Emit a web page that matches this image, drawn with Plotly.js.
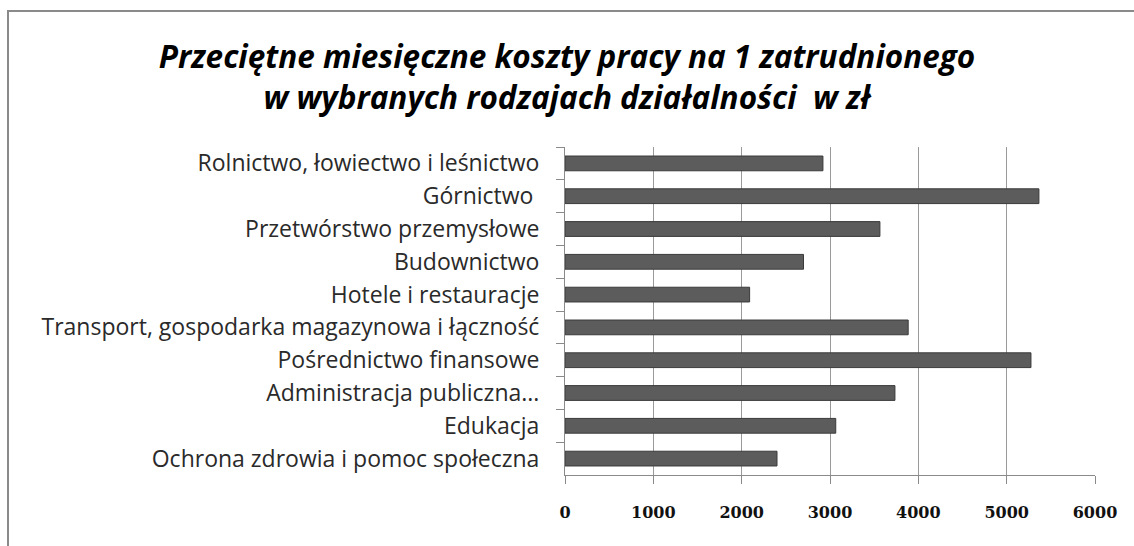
<!DOCTYPE html>
<html>
<head>
<meta charset="utf-8">
<script src="https://cdn.plot.ly/plotly-3.0.1.min.js"></script>
<style>
html,body{margin:0;padding:0;background:#fff;}
#wrap{position:relative;width:1134px;height:546px;overflow:hidden;}
#chart{position:absolute;left:0;top:0;width:1134px;height:546px;}
#frameTop{position:absolute;left:7px;top:10px;width:1127px;height:2px;background:#8a8a8a;}
#frameLeft{position:absolute;left:7px;top:10px;width:2px;height:536px;background:#8a8a8a;}
</style>
</head>
<body>
<div id="wrap">
<div id="chart"></div>
<div id="frameTop"></div>
<div id="frameLeft"></div>
</div>
<script>
const categories = [
  "Rolnictwo, łowiectwo i leśnictwo",
  "Górnictwo ",
  "Przetwórstwo przemysłowe",
  "Budownictwo",
  "Hotele i restauracje",
  "Transport, gospodarka magazynowa i łączność",
  "Pośrednictwo finansowe",
  "Administracja publiczna...",
  "Edukacja",
  "Ochrona zdrowia i pomoc społeczna"
];
const values = [2920, 5365, 3565, 2700, 2090, 3885, 5275, 3735, 3065, 2400];
const xTicks = [0, 1000, 2000, 3000, 4000, 5000, 6000];
const titleText = "<i><b>Przeciętne miesięczne koszty pracy na 1 zatrudnionego<br>w wybranych rodzajach działalności  w zł</b></i>";

const data = [{
  type: "bar",
  orientation: "h",
  y: categories,
  x: values,
  marker: {color: "#5c5c5c", line: {color: "#3a3a3a", width: 1}},
  hoverinfo: "x+y"
}];

const layout = {
  width: 1134, height: 546,
  paper_bgcolor: "#fff", plot_bgcolor: "#fff",
  margin: {l: 565, r: 39, t: 147, b: 71},
  showlegend: false,
  bargap: 0.55,
  title: {
    text: titleText,
    font: {family: "'Open Sans', sans-serif", size: 31.5, color: "#000"},
    x: 0.5, xanchor: "center", xref: "container",
    y: 1 - 68 / 546, yref: "container", yanchor: "middle"
  },
  xaxis: {
    range: [0, 6000],
    tickvals: xTicks,
    ticktext: xTicks.map(String),
    showgrid: true, gridcolor: "#9a9a9a", gridwidth: 1,
    showline: true, linecolor: "#8a8a8a", linewidth: 1,
    ticks: "outside", ticklen: 8, tickcolor: "#8a8a8a",
    ticklabelstandoff: 15,
    tickfont: {family: "'DejaVu Serif', serif", size: 16, color: "#111", weight: "bold"},
    zeroline: false, fixedrange: true
  },
  yaxis: {
    autorange: "reversed",
    type: "category",
    showline: true, linecolor: "#8a8a8a", linewidth: 1,
    ticks: "outside", ticklen: 8, tickcolor: "#8a8a8a",
    tickson: "boundaries",
    ticklabelstandoff: 20,
    tickfont: {family: "'Open Sans', sans-serif", size: 23, color: "#2a2a2a"},
    showgrid: false, zeroline: false, fixedrange: true
  }
};

Plotly.newPlot("chart", data, layout, {displayModeBar: false, staticPlot: true});
</script>
</body>
</html>
